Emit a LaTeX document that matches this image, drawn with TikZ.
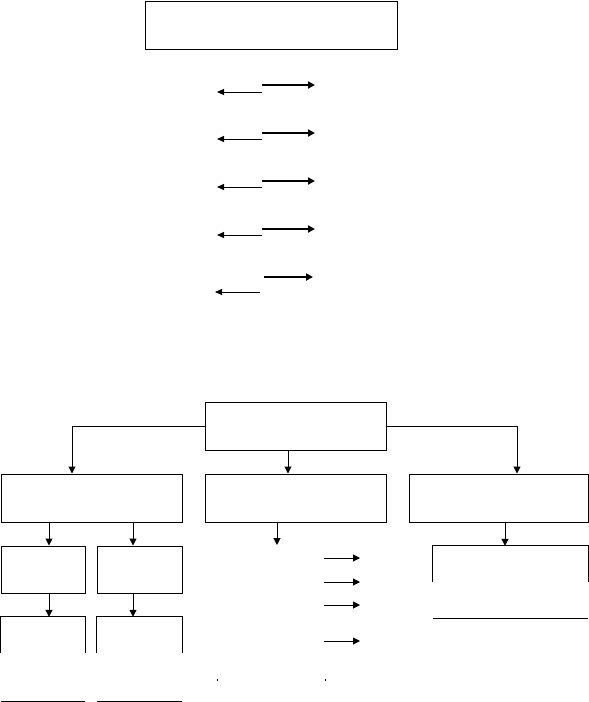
\documentclass[tikz,border=0pt]{standalone}
\usetikzlibrary{arrows.meta,calc}
\begin{document}
\begin{tikzpicture}[x=1pt,y=-1pt,
  box/.style={draw,line width=1pt,rectangle,inner sep=0pt},
  ghost/.style={rectangle,inner sep=0pt},
  ln/.style={line width=1pt},
  thinarr/.style={line width=1pt,-{Triangle[length=7pt,width=7pt]}},
  thickarr/.style={line width=2pt,-{Triangle[length=7pt,width=7pt]}},
  leftarr/.style={line width=1pt,-{Triangle[length=7pt,width=6pt]}}]
\useasboundingbox (0,0) rectangle (589,702);
% top box
\node[box,minimum width=252pt,minimum height=48pt] (top) at (271,25) {};
% arrow pairs
\foreach \i/\yt/\yb in {1/85/92,2/133/139,3/181/187,4/229/235}{
  \coordinate (t\i s) at (262,\yt); \coordinate (t\i e) at (315,\yt);
  \coordinate (b\i s) at (262,\yb); \coordinate (b\i e) at (217,\yb);
  \draw[thickarr] (t\i s) -- (t\i e);
  \draw[leftarr] (b\i s) -- (b\i e);
}
\coordinate (t5s) at (264,277); \coordinate (t5e) at (313,277);
\coordinate (b5s) at (260,292); \coordinate (b5e) at (215,292);
\draw[thickarr] (t5s) -- (t5e);
\draw[leftarr] (b5s) -- (b5e);
% lower tree
\node[box,minimum width=181pt,minimum height=48pt] (c) at (295.5,426) {};
\node[box,minimum width=181pt,minimum height=48pt] (l2a) at (91.5,498) {};
\node[box,minimum width=181pt,minimum height=48pt] (l2b) at (295.5,498) {};
\node[box,minimum width=179pt,minimum height=48pt] (l2c) at (498.5,498) {};
\coordinate (xl) at (72,0); \coordinate (xm) at (288,0); \coordinate (xr) at (517,0);
\draw[thinarr] (c.west) -| (l2a.north -| xl);
\draw[thinarr] (c.east) -| (l2c.north -| xr);
\draw[thinarr] (c.south -| xm) -- (l2b.north -| xm);
% level 3 left
\node[box,minimum width=84pt,minimum height=47pt] (l3a) at (43,569.5) {};
\node[box,minimum width=85pt,minimum height=47pt] (l3b) at (139.5,569.5) {};
\coordinate (xa) at (49,0); \coordinate (xb) at (133,0);
\draw[thinarr] (l2a.south -| xa) -- (l3a.north -| xa);
\draw[thinarr] (l2a.south -| xb) -- (l3b.north -| xb);
% level 4 left (open boxes)
\node[ghost,minimum width=84pt,minimum height=84pt] (l4a) at (43,659) {};
\node[ghost,minimum width=85pt,minimum height=84pt] (l4b) at (139.5,659) {};
\draw[thinarr] (l3a.south -| xa) -- (l4a.north -| xa);
\draw[thinarr] (l3b.south -| xb) -- (l4b.north -| xb);
\foreach \n in {l4a,l4b}{
  \draw[ln] ($(\n.north west)+(0,36)$) -- (\n.north west) -- (\n.north east) -- ($(\n.north east)+(0,36)$);
  \draw[ln] (\n.south west) -- (\n.south east);
}
% middle column
\coordinate (mend) at (277,545);
\draw[thinarr] (l2b.south -| mend) -- (mend);
\foreach \i/\y in {1/558,2/582,3/605,4/641}{
  \coordinate (r\i s) at (324,\y); \coordinate (r\i e) at (360,\y);
  \draw[thinarr] (r\i s) -- (r\i e);
}
\coordinate (d1) at (217,679); \coordinate (d2) at (325,679);
\draw[line width=0.8pt] (d1) -- ++(0,2);
\draw[line width=0.8pt] (d2) -- ++(0,2);
% right column open box
\node[ghost,minimum width=155pt,minimum height=72pt] (l3c) at (510.5,582) {};
\coordinate (xc) at (505,0);
\draw[thinarr] (l2c.south -| xc) -- (l3c.north -| xc);
\draw[ln] ($(l3c.north west)+(0,36)$) -- (l3c.north west) -- (l3c.north east) -- ($(l3c.north east)+(0,36)$);
\draw[ln] (l3c.south west) -- (l3c.south east);
\end{tikzpicture}
\end{document}
